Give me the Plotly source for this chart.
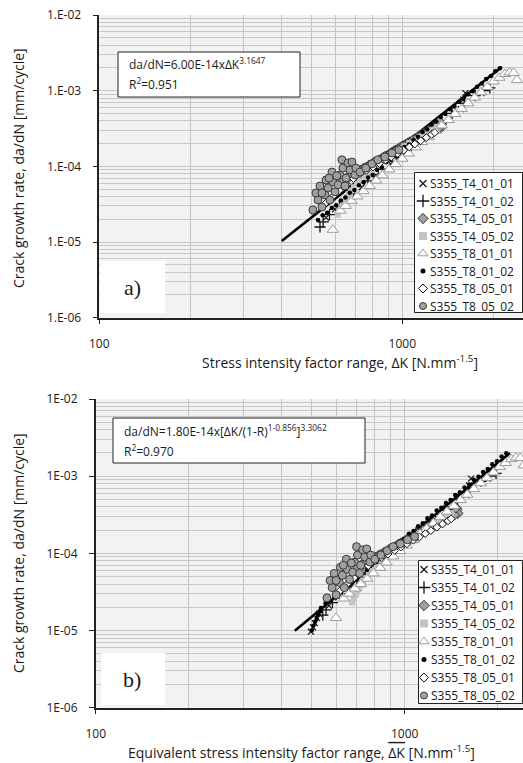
import plotly.graph_objects as go

W, H = 523, 763

# ---------------------------------------------------------------- data
SPECIMENS = ["S355_T4_01_01", "S355_T4_01_02", "S355_T4_05_01", "S355_T4_05_02",
             "S355_T8_01_01", "S355_T8_01_02", "S355_T8_05_01", "S355_T8_05_02"]
STRESS_RATIO = [0.1, 0.1, 0.5, 0.5, 0.1, 0.1, 0.5, 0.5]

# stress intensity factor range dK [N.mm^-1.5] and crack growth rate da/dN [mm/cycle]
T4_01_01_DK = [560, 600, 660, 735, 820, 915, 1020, 1130, 1250, 1370, 1480, 1560, 1590, 1615]
T4_01_01_DADN = [2.1e-5, 2.7e-5, 3.7e-5, 5.3e-5, 7.6e-5, 1.08e-4, 1.52e-4, 2.1e-4, 2.9e-4,
                 3.9e-4, 5.0e-4, 5.7e-4, 7.6e-4, 9.3e-4]

T4_01_02_DK = [535, 548, 575, 620, 690, 770, 860, 960, 1070, 1190, 1320, 1460, 1600, 1740, 1860, 1945]
T4_01_02_DADN = [1.58e-5, 1.85e-5, 2.3e-5, 3.0e-5, 4.4e-5, 6.4e-5, 9.2e-5, 1.30e-4, 1.85e-4,
                 2.6e-4, 3.6e-4, 5.0e-4, 6.8e-4, 8.6e-4, 1.0e-3, 1.09e-3]

T4_05_01_DK = [640, 655, 670, 685, 700, 715, 730, 745, 760, 775, 790, 805, 820, 835, 850, 865,
               880, 895, 910, 925, 940, 955, 970, 985, 1000, 1015, 1030, 1045, 1060, 1075, 1090,
               1105, 1120, 1135, 1150, 1165, 1180, 1195, 1210, 1225, 1240, 1255, 1270, 1285,
               1300, 1320, 1335, 1345, 1310, 1325]
T4_05_01_DADN = [6.6e-5, 7.0e-5, 7.3e-5, 7.8e-5, 8.1e-5, 8.6e-5, 8.9e-5, 9.4e-5, 9.7e-5, 1.02e-4,
                 1.06e-4, 1.12e-4, 1.16e-4, 1.19e-4, 1.24e-4, 1.31e-4, 1.36e-4, 1.40e-4, 1.46e-4,
                 1.53e-4, 1.6e-4, 1.64e-4, 1.7e-4, 1.78e-4, 1.84e-4, 1.89e-4, 1.96e-4, 2.04e-4,
                 2.1e-4, 2.16e-4, 2.24e-4, 2.33e-4, 2.4e-4, 2.46e-4, 2.54e-4, 2.64e-4, 2.72e-4,
                 2.78e-4, 2.86e-4, 2.96e-4, 3.04e-4, 3.12e-4, 3.22e-4, 3.3e-4, 3.4e-4, 3.55e-4,
                 3.72e-4, 3.3e-4, 3.15e-4, 3.9e-4]

T4_05_02_DK = [612, 620, 628, 636, 645, 655, 665, 678, 692, 708, 725, 745, 768, 792, 818, 846,
               876, 908, 942, 978, 1015, 1055, 1095, 1140, 1185, 1230, 1280]
T4_05_02_DADN = [2.3e-5, 2.6e-5, 2.9e-5, 3.2e-5, 3.5e-5, 3.9e-5, 4.3e-5, 4.8e-5, 5.3e-5, 5.9e-5,
                 6.5e-5, 7.2e-5, 8.0e-5, 8.9e-5, 9.9e-5, 1.1e-4, 1.22e-4, 1.36e-4, 1.5e-4,
                 1.66e-4, 1.84e-4, 2.03e-4, 2.24e-4, 2.47e-4, 2.72e-4, 3.0e-4, 3.3e-4]

T8_01_01_DK = [590, 625, 650, 680, 710, 745, 780, 820, 860, 905, 950, 1000, 1050, 1105, 1160,
               1220, 1285, 1350, 1420, 1495, 1570, 1650, 1735, 1820, 1910, 2000, 2090, 2180,
               2260, 2330, 2390]
T8_01_01_DADN = [1.45e-5, 2.6e-5, 3.0e-5, 3.5e-5, 4.0e-5, 4.7e-5, 5.5e-5, 6.5e-5, 7.6e-5, 9.1e-5,
                 1.07e-4, 1.26e-4, 1.48e-4, 1.78e-4, 2.09e-4, 2.45e-4, 2.95e-4, 3.47e-4, 4.1e-4,
                 4.9e-4, 5.75e-4, 6.8e-4, 8.1e-4, 9.5e-4, 1.12e-3, 1.32e-3, 1.48e-3, 1.66e-3,
                 1.74e-3, 1.72e-3, 1.38e-3]

T8_01_02_DK = [527, 546, 565, 585, 605, 627, 649, 671, 695, 719, 745, 771, 798, 826, 855, 885,
               916, 948, 982, 1016, 1052, 1089, 1127, 1167, 1208, 1250, 1294, 1340, 1387, 1435,
               1486, 1538, 1592, 1648, 1706, 1766, 1828, 1892, 1959, 2028, 2099]
T8_01_02_DADN = [1.96e-5, 2.25e-5, 2.44e-5, 2.81e-5, 3.06e-5, 3.55e-5, 3.88e-5, 4.47e-5, 4.86e-5,
                 5.62e-5, 6.15e-5, 7.1e-5, 7.7e-5, 8.95e-5, 9.7e-5, 1.13e-4, 1.22e-4, 1.42e-4,
                 1.55e-4, 1.8e-4, 1.95e-4, 2.25e-4, 2.46e-4, 2.85e-4, 3.1e-4, 3.58e-4, 3.9e-4,
                 4.5e-4, 4.92e-4, 5.7e-4, 6.2e-4, 7.15e-4, 7.8e-4, 9.0e-4, 9.85e-4, 1.13e-3,
                 1.24e-3, 1.43e-3, 1.56e-3, 1.8e-3, 1.98e-3]

T8_05_01_DK = [560, 590, 620, 655, 690, 725, 760, 800, 840, 880, 920, 965, 1010, 1055, 1100,
               1150, 1200, 1250, 1280]
T8_05_01_DADN = [3.3e-5, 4.0e-5, 4.8e-5, 5.8e-5, 6.9e-5, 8.0e-5, 8.8e-5, 9.8e-5, 1.09e-4,
                 1.21e-4, 1.33e-4, 1.48e-4, 1.63e-4, 1.8e-4, 1.97e-4, 2.18e-4, 2.4e-4, 2.64e-4, 2.8e-4]

T8_05_02_DK = [507, 527, 543, 519, 556, 535, 569, 577, 560, 590, 600, 614, 586, 622, 637, 652,
               632, 662, 682, 672, 698, 647, 608, 543, 573, 703, 725, 758, 794, 830, 876, 925, 975]
T8_05_02_DADN = [2.65e-5, 3.6e-5, 2.9e-5, 4.45e-5, 4.2e-5, 5.5e-5, 5.2e-5, 3.6e-5, 6.6e-5, 6.2e-5,
                 4.6e-5, 5.7e-5, 8.4e-5, 7.7e-5, 9.5e-5, 7.0e-5, 1.22e-4, 1.11e-4, 1.14e-4, 8.95e-5,
                 7.7e-5, 5.5e-5, 7.5e-5, 4.45e-5, 7.0e-5, 9.5e-5, 8.4e-5, 9.5e-5, 1.08e-4, 1.22e-4,
                 1.33e-4, 1.50e-4, 1.65e-4]

# near-threshold readings shown only against the equivalent range (panel b)
T4_01_01_DKEQ_LOW = [497, 505, 512, 520, 528]
T4_01_01_DADN_LOW = [9.7e-6, 1.1e-5, 1.25e-5, 1.45e-5, 1.65e-5]
T8_01_02_DKEQ_LOW = [500, 506, 513, 519, 525, 532]
T8_01_02_DADN_LOW = [1.0e-5, 1.15e-5, 1.30e-5, 1.45e-5, 1.59e-5, 1.77e-5]

DK_LISTS = [T4_01_01_DK, T4_01_02_DK, T4_05_01_DK, T4_05_02_DK,
            T8_01_01_DK, T8_01_02_DK, T8_05_01_DK, T8_05_02_DK]
DADN_LISTS = [T4_01_01_DADN, T4_01_02_DADN, T4_05_01_DADN, T4_05_02_DADN,
              T8_01_01_DADN, T8_01_02_DADN, T8_05_01_DADN, T8_05_02_DADN]

# fitted laws
FIT_A_C, FIT_A_M, FIT_A_R2 = 6.00e-14, 3.1647, 0.951
FIT_A_RANGE = [400, 2130]
FIT_B_C, FIT_B_M, FIT_B_GAMMA, FIT_B_R2 = 1.80e-14, 3.3062, 0.856, 0.970
FIT_B_RANGE = [441, 2190]

Y_TICKS = [1e-6, 1e-5, 1e-4, 1e-3, 1e-2]
Y_TICKTEXT_A = ["1.E-06", "1.E-05", "1.E-04", "1.E-03", "1.E-02"]
Y_TICKTEXT_B = ["1E-06", "1E-05", "1E-04", "1E-03", "1E-02"]
X_TICKS = [100, 1000]
X_TICKTEXT = ["100", "1000"]

# ---------------------------------------------------------------- styles
STYLES = [
    dict(symbol="x-thin", size=6, color="rgba(0,0,0,0)", line=dict(color="#111", width=1.2)),
    dict(symbol="cross-thin", size=8, color="rgba(0,0,0,0)", line=dict(color="#111", width=1.3)),
    dict(symbol="diamond", size=8, color="#a3a3a3", line=dict(color="#333", width=1)),
    dict(symbol="square", size=6, color="#c4c4c4", line=dict(width=0)),
    dict(symbol="triangle-up", size=10, color="white", line=dict(color="#9a9a9a", width=1)),
    dict(symbol="circle", size=4.5, color="#000", line=dict(width=0)),
    dict(symbol="diamond", size=6, color="white", line=dict(color="#111", width=1)),
    dict(symbol="circle", size=8, color="#a0a0a0", line=dict(color="#3a3a3a", width=1)),
]
KEY_SIZES = [7, 9, 8, 8, 9, 5, 7, 7]
FONT = "Open Sans"
INK = "#1a1a1a"


def px_x(px):
    return px / W


def px_y(py):
    return 1 - py / H


# pixel geometry of the two plot areas (left, top, right, bottom)
PANEL_A = (99.3, 15.0, 523.0, 317.7)
PANEL_B = (95.7, 399.0, 523.0, 707.7)
XDEC_A, XDEC_B = 303.0, 309.0
# key boxes (left, top, right, bottom), key symbol column, first row, row pitch
KEY_A = (414, 172, 523, 313, 423, 183.5, 17.5)
KEY_B = (418, 560, 523, 704, 424, 569.5, 18.0)

fig = go.Figure()

# fitted lines (straight on log-log, so the two ends suffice)
fit_a_y = [FIT_A_C * k ** FIT_A_M for k in FIT_A_RANGE]
fig.add_trace(go.Scatter(x=FIT_A_RANGE, y=fit_a_y, mode="lines", line=dict(color="black", width=2.6),
                         xaxis="x", yaxis="y", hoverinfo="skip"))
fit_b_y = [FIT_B_C * k ** FIT_B_M for k in FIT_B_RANGE]
fig.add_trace(go.Scatter(x=FIT_B_RANGE, y=fit_b_y, mode="lines", line=dict(color="black", width=2.6),
                         xaxis="x2", yaxis="y2", hoverinfo="skip"))

for i, name in enumerate(SPECIMENS):
    st = STYLES[i]
    marker = dict(symbol=st["symbol"], size=st["size"], color=st["color"], line=st["line"])
    # panel a: measured range
    fig.add_trace(go.Scatter(x=DK_LISTS[i], y=DADN_LISTS[i], mode="markers", name=name,
                             marker=marker, xaxis="x", yaxis="y"))
    # panel b: equivalent range dK/(1-R)^(1-gamma)
    factor = (1 - STRESS_RATIO[i]) ** (1 - FIT_B_GAMMA)
    xb = [k / factor for k in DK_LISTS[i]]
    yb = list(DADN_LISTS[i])
    if name == "S355_T4_01_01":
        xb = T4_01_01_DKEQ_LOW + xb
        yb = T4_01_01_DADN_LOW + yb
    if name == "S355_T8_01_02":
        xb = T8_01_02_DKEQ_LOW + xb
        yb = T8_01_02_DADN_LOW + yb
    fig.add_trace(go.Scatter(x=xb, y=yb, mode="markers", name=name, marker=marker,
                             xaxis="x2", yaxis="y2"))

minor_y = [m * 10.0 ** e for e in range(-6, -2) for m in range(2, 10)]
minor_x = [m * 10.0 ** e for e in range(2, 4) for m in range(2, 10)]
TICK_FONT = dict(family=FONT, size=12, color=INK)


def x_axis(panel, dec, anchor):
    l, t, r, b = panel
    return dict(type="log", range=[2, 2 + (r - l) / dec], domain=[px_x(l), px_x(r)], anchor=anchor,
                tickvals=X_TICKS, ticktext=X_TICKTEXT, ticks="outside", ticklen=5, tickcolor="#222",
                ticklabelstandoff=9, automargin=False,
                showline=True, linecolor="#222", linewidth=1.5, showgrid=True, gridcolor="#c4c4c4",
                gridwidth=1, zeroline=False, tickfont=TICK_FONT,
                minor=dict(tickvals=minor_x, showgrid=True, gridcolor="#c4c4c4", gridwidth=1, ticks=""))


def y_axis(panel, anchor, ticktext):
    l, t, r, b = panel
    return dict(type="log", range=[-6, -2], domain=[px_y(b), px_y(t)], anchor=anchor,
                tickvals=Y_TICKS, ticktext=ticktext, ticks="outside", ticklen=5, tickcolor="#222",
                ticklabelstandoff=9, automargin=False,
                showline=True, linecolor="#222", linewidth=1.5, showgrid=True, gridcolor="#c4c4c4",
                gridwidth=1, zeroline=False, tickfont=TICK_FONT,
                minor=dict(tickvals=minor_y, showgrid=True, gridcolor="#c8c8c8", gridwidth=1, ticks=""))


def key_axes(box):
    l, t, r, b = box[:4]
    hidden = dict(visible=False, showgrid=False, zeroline=False, fixedrange=True, automargin=False)
    xa = dict(hidden, domain=[px_x(l), px_x(r)], range=[l, r])
    ya = dict(hidden, domain=[px_y(b), px_y(t)], range=[b, t])
    return xa, ya


shapes = []
annotations = []


def rect(x0, y0, x1, y1, border=True):
    shapes.append(dict(type="rect", xref="paper", yref="paper", x0=px_x(x0), x1=px_x(x1),
                       y0=px_y(y1), y1=px_y(y0), fillcolor="white", layer="above",
                       line=dict(color="#222", width=1) if border else dict(width=0)))


def text(x, y, s, size=12, family=FONT, xanchor="center", angle=0, align="center"):
    annotations.append(dict(x=px_x(x), y=px_y(y), xref="paper", yref="paper", text=s,
                            showarrow=False, xanchor=xanchor, yanchor="middle", textangle=angle,
                            align=align, font=dict(family=family, size=size, color=INK)))


# series keys drawn on their own overlay axes so they sit above the data
for box, xr, yr in ((KEY_A, "x3", "y3"), (KEY_B, "x4", "y4")):
    l, t, r, b, sx, row0, pitch = box
    fig.add_trace(go.Scatter(x=[l + 0.5, r - 0.5, r - 0.5, l + 0.5, l + 0.5],
                             y=[t + 0.5, t + 0.5, b - 0.5, b - 0.5, t + 0.5],
                             mode="lines", fill="toself", fillcolor="white",
                             line=dict(color="#222", width=1), xaxis=xr, yaxis=yr, hoverinfo="skip"))
    for i, name in enumerate(SPECIMENS):
        st = STYLES[i]
        ry = row0 + i * pitch
        fig.add_trace(go.Scatter(x=[sx], y=[ry], mode="markers", xaxis=xr, yaxis=yr, hoverinfo="skip",
                                 marker=dict(symbol=st["symbol"], size=KEY_SIZES[i], color=st["color"],
                                             line=st["line"])))
        text(sx + 5, ry, name, size=12, xanchor="left")

# equation boxes
rect(118, 52, 300, 97)
text(127, 64, f"da/dN={FIT_A_C:.2E}xΔK<sup>{FIT_A_M}</sup>", size=12, xanchor="left", align="left")
text(127, 84, f"R<sup>2</sup>={FIT_A_R2:.3f}", size=12, xanchor="left", align="left")
rect(113, 418, 365, 463)
text(122, 431, f"da/dN={FIT_B_C:.2E}x[ΔK/(1-R)<sup>1-{FIT_B_GAMMA}</sup>]<sup>{FIT_B_M}</sup>",
     size=12, xanchor="left", align="left")
text(122, 451, f"R<sup>2</sup>={FIT_B_R2:.3f}", size=12, xanchor="left", align="left")

# panel labels
rect(100, 261, 165, 313, border=False)
text(132, 287, "a)", size=22, family="Liberation Serif")
rect(101, 653, 165, 705, border=False)
text(132, 679, "b)", size=22, family="Liberation Serif")

# axis titles
text(18, 168, "Crack growth rate, da/dN [mm/cycle]", size=14, angle=-90)
text(18, 553, "Crack growth rate, da/dN [mm/cycle]", size=14, angle=-90)
text(340, 362, "Stress intensity factor range, ΔK [N.mm<sup>-1.5</sup>]", size=14)
text(301, 752, 'Equivalent stress intensity factor range, '
     '<span style="text-decoration:overline">ΔK</span> [N.mm<sup>-1.5</sup>]', size=14)

xa3, ya3 = key_axes(KEY_A)
xa4, ya4 = key_axes(KEY_B)
xa3["anchor"], ya3["anchor"] = "y3", "x3"
xa4["anchor"], ya4["anchor"] = "y4", "x4"

fig.update_layout(
    width=W, height=H, margin=dict(l=0, r=0, t=0, b=0, autoexpand=False),
    paper_bgcolor="white", plot_bgcolor="#f2f2f2", showlegend=False,
    xaxis=x_axis(PANEL_A, XDEC_A, "y"), yaxis=y_axis(PANEL_A, "x", Y_TICKTEXT_A),
    xaxis2=x_axis(PANEL_B, XDEC_B, "y2"), yaxis2=y_axis(PANEL_B, "x2", Y_TICKTEXT_B),
    xaxis3=xa3, yaxis3=ya3, xaxis4=xa4, yaxis4=ya4,
    shapes=shapes, annotations=annotations,
)

fig.write_html("out.html")
